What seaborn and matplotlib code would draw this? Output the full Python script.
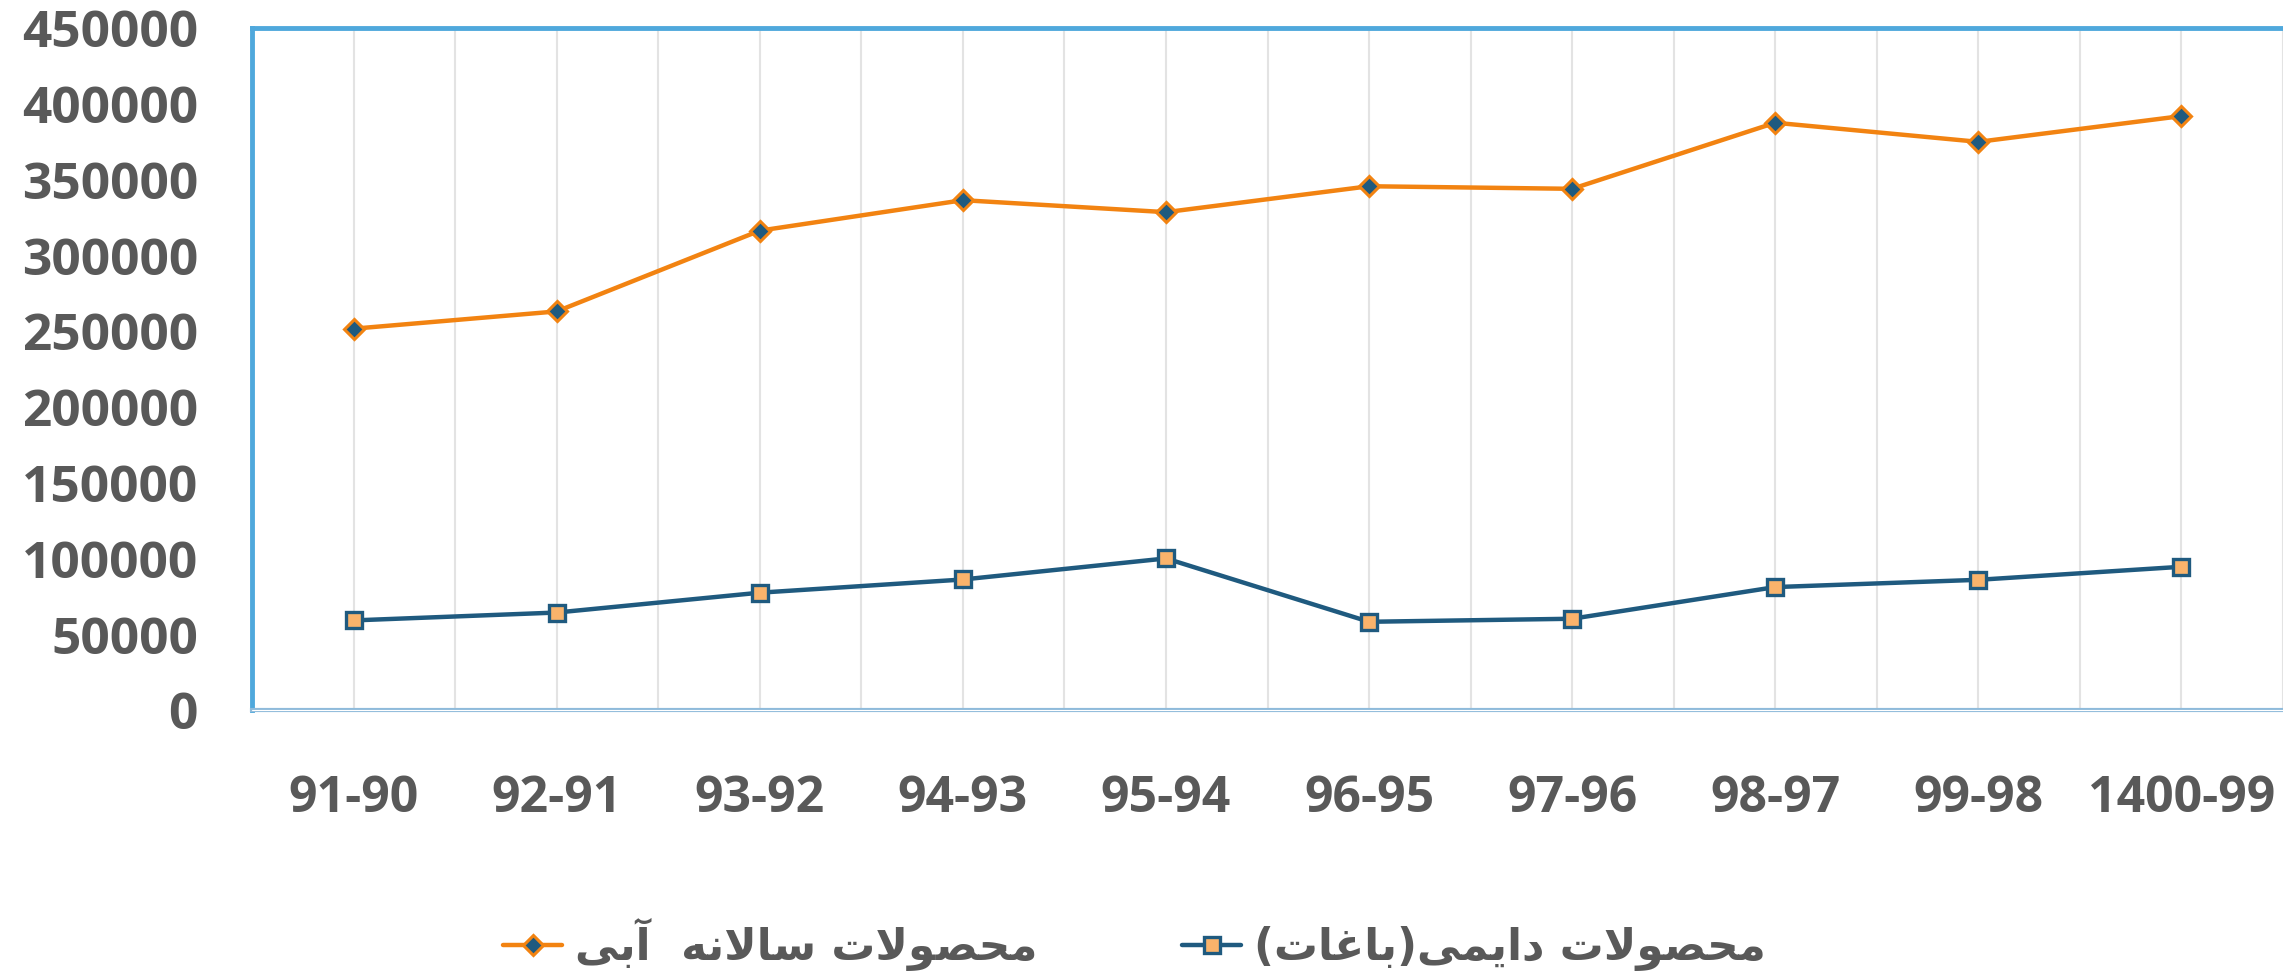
import numpy as np
import pandas as pd
import seaborn as sns
import matplotlib.pyplot as plt

periods = ['91-90', '92-91', '93-92', '94-93', '95-94',
           '96-95', '97-96', '98-97', '99-98', '1400-99']
annual_irrigated = [251800, 263200, 316500, 336600, 328700,
                    345800, 344100, 387700, 375100, 392100]
permanent_orchards = [59300, 64500, 77600, 86300, 100200,
                      58400, 60400, 81300, 86100, 94700]

label_annual = 'محصولات سالانه  آبی'
label_perm = 'محصولات دایمی(باغات)'

# matplotlib has no arabic shaping, so do a small one by hand
FORMS = {
    'ا': ('\uFE8D', '\uFE8E', None, None),
    'آ': ('\uFE81', '\uFE82', None, None),
    'د': ('\uFEA9', '\uFEAA', None, None),
    'و': ('\uFEED', '\uFEEE', None, None),
    'ب': ('\uFE8F', '\uFE90', '\uFE91', '\uFE92'),
    'ت': ('\uFE95', '\uFE96', '\uFE97', '\uFE98'),
    'ح': ('\uFEA1', '\uFEA2', '\uFEA3', '\uFEA4'),
    'س': ('\uFEB1', '\uFEB2', '\uFEB3', '\uFEB4'),
    'ص': ('\uFEB9', '\uFEBA', '\uFEBB', '\uFEBC'),
    'غ': ('\uFECD', '\uFECE', '\uFECF', '\uFED0'),
    'ل': ('\uFEDD', '\uFEDE', '\uFEDF', '\uFEE0'),
    'م': ('\uFEE1', '\uFEE2', '\uFEE3', '\uFEE4'),
    'ن': ('\uFEE5', '\uFEE6', '\uFEE7', '\uFEE8'),
    'ه': ('\uFEE9', '\uFEEA', '\uFEEB', '\uFEEC'),
    'ی': ('\uFEEF', '\uFEF0', '\uFEF3', '\uFEF4'),
}


def dual(c):
    return c in FORMS and FORMS[c][2] is not None


def shape_fa(text):
    out = []
    i = 0
    while i < len(text):
        c = text[i]
        prev_j = i > 0 and dual(text[i - 1])
        if c == 'ل' and i + 1 < len(text) and text[i + 1] == 'ا':
            out.append('\uFEFC' if prev_j else '\uFEFB')
            i += 2
            continue
        if c not in FORMS:
            out.append(c)
            i += 1
            continue
        next_j = dual(c) and i + 1 < len(text) and text[i + 1] in FORMS
        iso, fin, ini, med = FORMS[c]
        if prev_j and next_j:
            out.append(med)
        elif prev_j:
            out.append(fin)
        elif next_j:
            out.append(ini)
        else:
            out.append(iso)
        i += 1
    vis = ''.join(reversed(out))
    return vis.translate(str.maketrans('()', ')('))


df = pd.DataFrame({
    'period': periods * 2,
    'value': annual_irrigated + permanent_orchards,
    'series': ['annual'] * len(periods) + ['perm'] * len(periods),
})

sns.set_style('white')
plt.rcParams['font.family'] = ['Open Sans', 'DejaVu Sans']

orange = '#F28311'
navy = '#1F5A7F'
grey = '#595959'

fig = plt.figure(figsize=(22.83, 9.77), dpi=100)
ax = fig.add_axes([0.1104, 0.273, 0.8896, 0.698])

sns.lineplot(data=df, x='period', y='value', hue='series', style='series',
             palette={'annual': orange, 'perm': navy},
             markers={'annual': 'D', 'perm': 's'}, dashes=False,
             sort=False, linewidth=3.2, ax=ax, legend=False)

l_annual, l_perm = ax.lines[0], ax.lines[1]
l_annual.set_markersize(10)
l_annual.set_markerfacecolor(navy)
l_annual.set_markeredgecolor(orange)
l_annual.set_markeredgewidth(2.2)
l_perm.set_markersize(11.5)
l_perm.set_markerfacecolor('#F9B36B')
l_perm.set_markeredgecolor(navy)
l_perm.set_markeredgewidth(2.4)

ax.set_xlim(-0.5, len(periods) - 0.5)
ax.set_ylim(0, 450000)
ax.set_yticks(np.arange(0, 450001, 50000))
ax.set_xticks(np.arange(-0.5, len(periods), 1), minor=True)
ax.grid(True, axis='x', which='both', color='#E3E3E3', linewidth=1.5)
ax.grid(False, axis='y')
ax.set_xlabel('')
ax.set_ylabel('')

ax.tick_params(axis='y', length=0, pad=39, labelsize=37, labelcolor=grey)
ax.tick_params(axis='x', which='both', length=0, pad=46, labelsize=36, labelcolor=grey)
for lab in ax.get_xticklabels() + ax.get_yticklabels():
    lab.set_fontweight('bold')

for s in ['left', 'top']:
    ax.spines[s].set_color('#4FA8DC')
    ax.spines[s].set_linewidth(3.5)
ax.spines['right'].set_visible(False)
ax.spines['bottom'].set_color('#8FBBDB')
ax.spines['bottom'].set_linewidth(3)
ax.axhline(0, color='white', linewidth=0.8, clip_on=False, zorder=3)

leg = fig.legend([l_annual, l_perm],
                 [shape_fa(label_annual), shape_fa(label_perm)],
                 loc='center', bbox_to_anchor=(0.497, 0.033), ncol=2,
                 frameon=False, handlelength=1.35, handletextpad=0.3,
                 columnspacing=3.3,
                 prop={'family': ['DejaVu Sans'], 'weight': 'bold', 'size': 31.5})
for t in leg.get_texts():
    t.set_color(grey)

fig.savefig('out.png', dpi=100)
